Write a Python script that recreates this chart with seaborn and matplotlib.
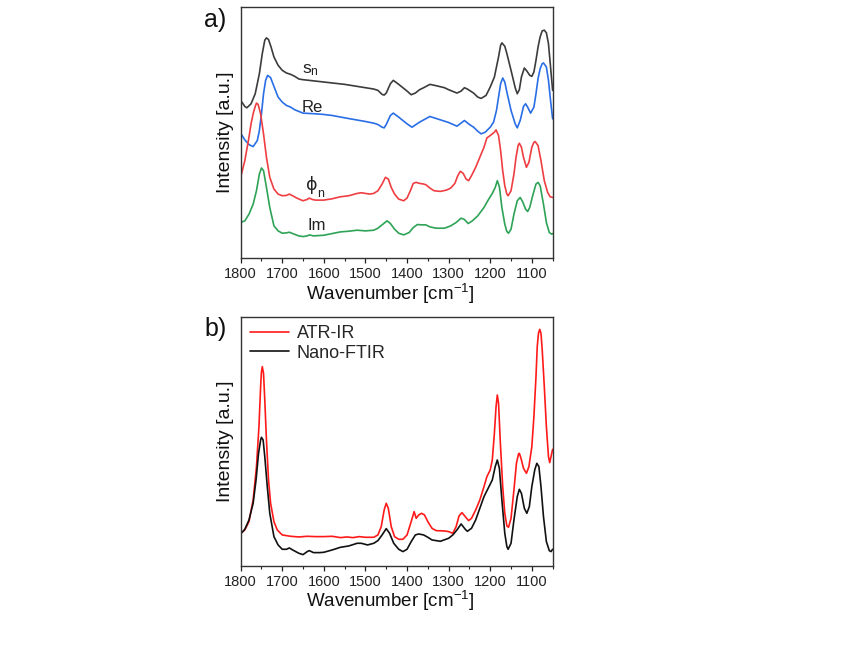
import numpy as np
import pandas as pd
import matplotlib
matplotlib.use("Agg")
import matplotlib.pyplot as plt
from matplotlib.ticker import MultipleLocator
import seaborn as sns

# ---------------- data (panel a) ----------------
sn_wn = [1800, 1790, 1785, 1775, 1765, 1755, 1748, 1742, 1738, 1733, 1727, 1720, 1710, 1700, 1690, 1680, 1670,
         1660, 1650, 1600, 1550, 1500, 1480, 1470, 1460, 1455, 1450, 1440, 1433, 1420, 1400, 1390, 1380, 1370,
         1360, 1345, 1330, 1310, 1300, 1280, 1270, 1262, 1255, 1240, 1230, 1222, 1210, 1200, 1195, 1190, 1180,
         1175, 1172, 1165, 1160, 1150, 1140, 1135, 1130, 1125, 1118, 1112, 1105, 1100, 1095, 1090, 1085, 1080,
         1075, 1070, 1065, 1060, 1055, 1050]
sn_val = [472, 454, 450, 462, 492, 552, 612, 652, 659, 654, 632, 602, 577, 562, 554, 550, 544,
          536, 534, 527, 520, 510, 506, 502, 490, 488, 494, 522, 532, 520, 500, 489, 494, 504,
          510, 520, 516, 510, 504, 494, 500, 510, 506, 494, 482, 478, 487, 512, 527, 542, 602,
          637, 644, 634, 612, 562, 510, 492, 504, 542, 569, 560, 547, 544, 557, 592, 632, 662,
          680, 682, 674, 642, 572, 502]

re_wn = [1800, 1790, 1780, 1770, 1760, 1755, 1750, 1745, 1740, 1735, 1728, 1720, 1710, 1700, 1690, 1680, 1670,
         1650, 1620, 1600, 1580, 1550, 1500, 1480, 1470, 1460, 1455, 1450, 1440, 1433, 1420, 1400, 1388, 1370,
         1345, 1320, 1300, 1280, 1262, 1250, 1240, 1230, 1222, 1212, 1200, 1192, 1185, 1180, 1175, 1170, 1165,
         1160, 1150, 1140, 1135, 1128, 1120, 1115, 1110, 1103, 1095, 1090, 1085, 1080, 1075, 1072, 1065, 1060,
         1055, 1050]
re_val = [374, 354, 340, 334, 352, 382, 432, 492, 532, 547, 540, 514, 482, 467, 457, 452, 444,
          434, 432, 430, 427, 420, 409, 404, 400, 392, 390, 400, 427, 434, 422, 402, 392, 407,
          424, 414, 406, 395, 412, 400, 392, 380, 372, 377, 392, 407, 442, 482, 522, 539, 527,
          497, 442, 402, 390, 412, 454, 462, 452, 434, 452, 492, 537, 567, 582, 584, 572, 532,
          472, 417]

ph_wn = [1800, 1790, 1780, 1775, 1770, 1765, 1762, 1758, 1752, 1745, 1738, 1730, 1720, 1710, 1700, 1690, 1683,
         1675, 1665, 1650, 1640, 1635, 1628, 1620, 1600, 1580, 1560, 1540, 1520, 1510, 1500, 1490, 1480, 1470,
         1460, 1452, 1445, 1438, 1430, 1420, 1408, 1400, 1392, 1385, 1378, 1370, 1360, 1355, 1345, 1335, 1320,
         1305, 1295, 1285, 1278, 1272, 1265, 1258, 1252, 1245, 1235, 1225, 1215, 1208, 1200, 1195, 1190, 1186,
         1180, 1175, 1170, 1165, 1160, 1157, 1150, 1143, 1138, 1133, 1130, 1125, 1120, 1113, 1107, 1100, 1095,
         1092, 1085, 1078, 1070, 1062, 1056, 1050]
ph_val = [242, 292, 362, 402, 432, 454, 464, 460, 432, 372, 302, 242, 207, 192, 187, 188, 192,
          187, 180, 172, 176, 180, 176, 174, 174, 178, 184, 187, 194, 196, 194, 192, 194, 202,
          222, 242, 237, 212, 192, 177, 172, 180, 202, 224, 227, 224, 222, 220, 210, 202, 200,
          204, 210, 224, 247, 260, 254, 237, 232, 247, 272, 302, 332, 360, 367, 372, 377, 384,
          367, 322, 262, 217, 192, 187, 202, 252, 302, 337, 344, 332, 302, 272, 287, 332, 347,
          349, 337, 292, 232, 197, 184, 182]

im_wn = [1800, 1790, 1780, 1770, 1762, 1755, 1750, 1745, 1738, 1730, 1720, 1710, 1700, 1690, 1683, 1675, 1660,
         1650, 1640, 1635, 1625, 1600, 1580, 1560, 1540, 1520, 1500, 1480, 1470, 1460, 1448, 1440, 1430, 1420,
         1408, 1395, 1385, 1375, 1365, 1355, 1345, 1330, 1310, 1295, 1282, 1270, 1262, 1253, 1243, 1230, 1215,
         1205, 1195, 1188, 1183, 1178, 1172, 1165, 1160, 1156, 1150, 1143, 1135, 1128, 1122, 1115, 1110, 1105,
         1098, 1090, 1085, 1080, 1072, 1065, 1058, 1052, 1050]
im_val = [107, 112, 132, 162, 202, 252, 270, 262, 212, 152, 97, 82, 75, 76, 78, 74, 67,
          65, 67, 70, 67, 69, 74, 79, 81, 84, 82, 84, 90, 100, 112, 104, 87, 75,
          70, 77, 92, 101, 100, 100, 94, 90, 90, 97, 107, 120, 116, 104, 112, 127, 152,
          174, 194, 212, 232, 214, 152, 102, 80, 75, 87, 132, 172, 182, 169, 147, 140, 152,
          187, 222, 227, 217, 162, 107, 77, 72, 74]

# ---------------- data (panel b) ----------------
atr_wn = [1800, 1790, 1780, 1770, 1762, 1756, 1752, 1750, 1748, 1745, 1742, 1738, 1733, 1728, 1720, 1712, 1700,
          1680, 1660, 1640, 1620, 1600, 1580, 1560, 1545, 1530, 1515, 1500, 1480, 1470, 1462, 1455, 1450, 1445,
          1438, 1430, 1420, 1410, 1400, 1390, 1383,
          1378, 1372, 1365, 1358, 1350, 1340, 1330, 1310, 1300, 1290, 1282, 1275, 1268, 1260, 1252, 1245, 1235,
          1225, 1215, 1208, 1200, 1195, 1190, 1186, 1183, 1180, 1176, 1170, 1165, 1160, 1156, 1150, 1143, 1137,
          1132, 1130, 1126, 1120, 1113, 1107, 1100, 1095, 1090, 1087, 1084, 1081, 1078, 1075, 1070, 1065, 1060,
          1057, 1053, 1050]
atr_val = [99, 109, 134, 199, 299, 419, 539, 584, 599, 579, 499, 379, 259, 189, 134, 109, 94,
           90, 88, 90, 89, 89, 90, 86, 88, 86, 89, 87, 87, 94, 119, 169, 189, 174,
           119, 89, 81, 81, 94, 134, 164,
           144, 154, 159, 154, 134, 114, 107, 106, 104, 99, 119, 151, 161, 149, 137, 144, 169,
           199, 239, 269, 289, 319, 399, 479, 514, 489, 379, 239, 159, 121, 117, 144, 229, 309,
           337, 339, 324, 294, 279, 299, 359, 449, 569, 659, 699, 711, 699, 649, 539, 419, 329,
           311, 334, 351]

nano_wn = [1800, 1790, 1780, 1770, 1763, 1757, 1752, 1750, 1746, 1742, 1736, 1730, 1720, 1710, 1700, 1690, 1683,
           1675, 1660, 1650, 1640, 1635, 1625, 1610, 1600, 1580, 1560, 1540, 1520, 1510, 1495, 1480, 1470, 1460,
           1450, 1442, 1432, 1420, 1410, 1400, 1390, 1380, 1372, 1360, 1350, 1340, 1320, 1300, 1290, 1280, 1270,
           1260, 1255, 1245, 1235, 1225, 1215, 1205, 1195, 1188, 1183, 1178, 1172, 1165, 1160, 1157, 1150, 1143,
           1135, 1130, 1125, 1118, 1112, 1106, 1100, 1093, 1088, 1083, 1078, 1072, 1065, 1058, 1054, 1050]
nano_val = [97, 111, 139, 189, 259, 339, 379, 387, 379, 329, 239, 159, 89, 64, 51, 51, 55,
            49, 39, 35, 44, 47, 41, 41, 42, 49, 57, 61, 69, 69, 64, 69, 77, 94,
            113, 99, 69, 51, 44, 51, 74, 94, 97, 94, 87, 79, 75, 84, 94, 109, 127,
            111, 105, 114, 139, 174, 209, 234, 259, 299, 319, 294, 199, 99, 59, 51, 69, 139,
            209, 231, 219, 174, 159, 179, 239, 289, 309, 299, 239, 149, 74, 47, 44, 51]

tick_labels = ["1800", "1700", "1600", "1500", "1400", "1300", "1200", "1100"]

# ---------------- style ----------------
sns.set_theme(style="ticks")
plt.rcParams["font.family"] = ["Liberation Sans", "DejaVu Sans"]
plt.rcParams["mathtext.fontset"] = "custom"
plt.rcParams["mathtext.rm"] = "Liberation Sans"
plt.rcParams["mathtext.it"] = "Liberation Sans:italic"

fig = plt.figure(figsize=(8.54, 6.5), dpi=100)
axa = fig.add_axes([0.2818, 0.6026, 0.3653, 0.387])
axb = fig.add_axes([0.2818, 0.1288, 0.3653, 0.3835])

def df_of(pairs):
    frames = []
    for name, wn, val in pairs:
        frames.append(pd.DataFrame({"wn": wn, "I": val, "s": name}))
    return pd.concat(frames, ignore_index=True)

dfa = df_of([("s_n", sn_wn, sn_val), ("Re", re_wn, re_val), ("phi_n", ph_wn, ph_val), ("Im", im_wn, im_val)])
pal_a = {"s_n": "#3c3c3c", "Re": "#2a6ee6", "phi_n": "#ef3e42", "Im": "#2ea356"}
sns.lineplot(data=dfa, x="wn", y="I", hue="s", palette=pal_a, sort=False, estimator=None,
             linewidth=1.2, legend=False, ax=axa)

dfb = df_of([("ATR-IR", atr_wn, atr_val), ("Nano-FTIR", nano_wn, nano_val)])
pal_b = {"ATR-IR": "#ff1a1a", "Nano-FTIR": "#111111"}
sns.lineplot(data=dfb, x="wn", y="I", hue="s", palette=pal_b, sort=False, estimator=None,
             linewidth=1.2, ax=axb)

for ax in (axa, axb):
    ax.set_xlim(1800, 1050)
    ax.set_xticks([1800, 1700, 1600, 1500, 1400, 1300, 1200, 1100])
    ax.set_xticklabels(tick_labels)
    ax.xaxis.set_minor_locator(MultipleLocator(50))
    ax.set_yticks([])
    ax.tick_params(axis="x", which="major", direction="out", length=3.5, width=0.9,
                   labelsize=10.5, pad=3, colors="#222222")
    ax.tick_params(axis="x", which="minor", direction="out", length=2, width=0.8, colors="#222222")
    for sp in ax.spines.values():
        sp.set_visible(True)
        sp.set_color("#333333")
        sp.set_linewidth(1.0)
    ax.set_xlabel("Wavenumber [cm$^{-1}$]", fontsize=13.5, labelpad=0, color="#111111")
    ax.xaxis.set_label_coords(0.479, -0.092)
    ax.set_ylabel("Intensity [a.u.]", fontsize=14, labelpad=5, color="#111111")
    ax.set_facecolor("white")

axa.set_ylim(0, 752)
axb.set_ylim(0, 748)

# curve labels in panel a
axa.text(0.198, 0.735, "s$_\\mathregular{n}$", transform=axa.transAxes, fontsize=12.5, color="#222222")
axa.text(0.196, 0.581, "Re", transform=axa.transAxes, fontsize=12, color="#222222")
axa.text(0.208, 0.27, "ϕ", transform=axa.transAxes, fontsize=12.5, color="#222222",
         family=["DejaVu Sans"])
axa.text(0.245, 0.245, "n", transform=axa.transAxes, fontsize=9, color="#222222")
axa.text(0.213, 0.112, "Im", transform=axa.transAxes, fontsize=12, color="#222222")

fig.text(0.239, 0.969, "a)", fontsize=18, color="#111111", ha="left", va="center")
fig.text(0.239, 0.494, "b)", fontsize=18, color="#111111", ha="left", va="center")

leg = axb.legend(loc="upper left", bbox_to_anchor=(-0.005, 1.01), frameon=False, fontsize=13,
                 handlelength=2.15, handletextpad=0.45, labelspacing=0.12, borderaxespad=0.2)
leg.set_title(None)

fig.savefig("out.png", dpi=100, facecolor="white")
